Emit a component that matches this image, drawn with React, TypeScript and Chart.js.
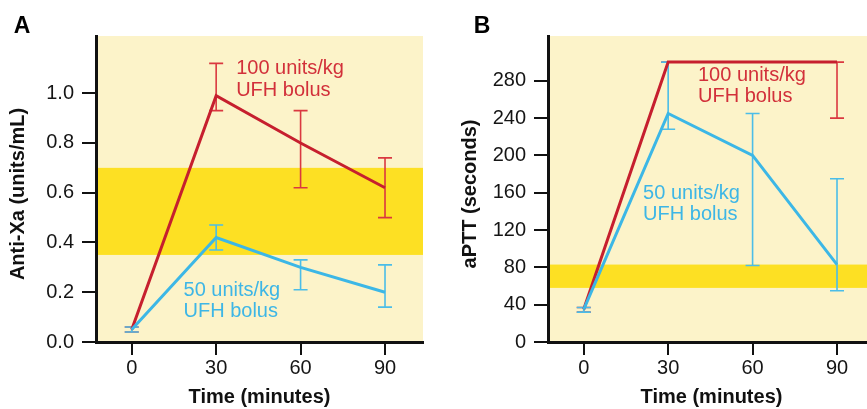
import React, { useEffect, useRef } from "react";
import { Chart, registerables } from "chart.js";

Chart.register(...registerables);

// ---------- data ----------
const timeMinutes = [0, 30, 60, 90];
const timeTicks = [0, 30, 60, 90];

// Panel A: anti-Xa (units/mL)
const antiXaTicks = [0, 0.2, 0.4, 0.6, 0.8, 1.0];
const antiXaTarget = [0.35, 0.7];
const antiXa100 = [0.05, 0.99, 0.8, 0.62];
const antiXa100Low = [0.04, 0.93, 0.62, 0.5];
const antiXa100High = [0.06, 1.12, 0.93, 0.74];
const antiXa50 = [0.05, 0.42, 0.3, 0.2];
const antiXa50Low = [0.04, 0.37, 0.21, 0.14];
const antiXa50High = [0.06, 0.47, 0.33, 0.31];

// Panel B: aPTT (seconds)
const apttTicks = [0, 40, 80, 120, 160, 200, 240, 280];
const apttTarget = [58, 83];
const aptt100 = [35, 300, 300, 300];
const aptt100Low = [32, 300, 300, 240];
const aptt100High = [37, 300, 300, 300];
const aptt50 = [35, 245, 200, 83];
const aptt50Low = [32, 228, 82, 55];
const aptt50High = [37, 300, 245, 175];

const label100 = ["100 units/kg", "UFH bolus"];
const label50 = ["50 units/kg", "UFH bolus"];

// ---------- styles ----------
const FONT = '"Liberation Sans", Arial, Helvetica, sans-serif';
const BG = "#FCF3C9";
const BAND = "#FDE023";
const RED = "#C61F2E";
const RED_LIGHT = "#DA3840";
const BLUE = "#3CB7E6";
const BLUE_LIGHT = "#4BBDE8";
const INK = "#111111";

type Series = {
  values: number[];
  low: number[];
  high: number[];
  color: string;
  errColor: string;
  order: number;
};

type Note = { lines: string[]; x: number; y: number; color: string };

type PanelCfg = {
  letter: string;
  letterX: number;
  yTitle: string;
  yMax: number;
  yTicks: number[];
  yFormat: (v: number) => string;
  band: number[];
  series: Series[];
  notes: Note[];
};

const panelA: PanelCfg = {
  letter: "A",
  letterX: 22,
  yTitle: "Anti-Xa (units/mL)",
  yMax: 1.23,
  yTicks: antiXaTicks,
  yFormat: (v) => v.toFixed(1),
  band: antiXaTarget,
  series: [
    { values: antiXa100, low: antiXa100Low, high: antiXa100High, color: RED, errColor: RED_LIGHT, order: 1 },
    { values: antiXa50, low: antiXa50Low, high: antiXa50High, color: BLUE, errColor: BLUE_LIGHT, order: 0 },
  ],
  notes: [
    { lines: label100, x: 37.1, y: 1.098, color: "#D2303A" },
    { lines: label50, x: 18.4, y: 0.209, color: "#3DB6E6" },
  ],
};

const panelB: PanelCfg = {
  letter: "B",
  letterX: 30,
  yTitle: "aPTT (seconds)",
  yMax: 328,
  yTicks: apttTicks,
  yFormat: (v) => String(Math.round(v)),
  band: apttTarget,
  series: [
    { values: aptt100, low: aptt100Low, high: aptt100High, color: RED, errColor: RED_LIGHT, order: 1 },
    { values: aptt50, low: aptt50Low, high: aptt50High, color: BLUE, errColor: BLUE_LIGHT, order: 0 },
  ],
  notes: [
    { lines: label100, x: 40.6, y: 286, color: "#D2303A" },
    { lines: label50, x: 21.1, y: 159.5, color: "#3DB6E6" },
  ],
};

function buildChart(canvas: HTMLCanvasElement, cfg: PanelCfg) {
  const decor = {
    id: "panelDecor",
    beforeDraw(chart: any) {
      const { ctx, chartArea: a } = chart;
      const y = chart.scales.y;
      ctx.save();
      ctx.fillStyle = BG;
      ctx.fillRect(a.left, a.top, a.right - a.left, a.bottom - a.top);
      const yT = y.getPixelForValue(cfg.band[1]);
      const yB = y.getPixelForValue(cfg.band[0]);
      ctx.fillStyle = BAND;
      ctx.fillRect(a.left, yT, a.right - a.left, yB - yT);
      ctx.restore();
    },
    beforeDatasetsDraw(chart: any) {
      const { ctx } = chart;
      const xs = chart.scales.x;
      const ys = chart.scales.y;
      ctx.save();
      ctx.lineWidth = 1.6;
      const cap = 7;
      cfg.series.forEach((s) => {
        ctx.strokeStyle = s.errColor;
        timeMinutes.forEach((t, i) => {
          const px = xs.getPixelForValue(t);
          const pLo = ys.getPixelForValue(s.low[i]);
          const pHi = ys.getPixelForValue(s.high[i]);
          ctx.beginPath();
          ctx.moveTo(px, pLo);
          ctx.lineTo(px, pHi);
          ctx.moveTo(px - cap, pLo);
          ctx.lineTo(px + cap, pLo);
          ctx.moveTo(px - cap, pHi);
          ctx.lineTo(px + cap, pHi);
          ctx.stroke();
        });
      });
      ctx.restore();
    },
    afterDraw(chart: any) {
      const { ctx, chartArea: a } = chart;
      const xs = chart.scales.x;
      const ys = chart.scales.y;
      ctx.save();
      ctx.font = `20px ${FONT}`;
      ctx.textAlign = "left";
      ctx.textBaseline = "middle";
      cfg.notes.forEach((n) => {
        const px = xs.getPixelForValue(n.x);
        const py = ys.getPixelForValue(n.y);
        ctx.fillStyle = n.color;
        n.lines.forEach((line, i) => ctx.fillText(line, px, py + i * 21.7));
      });
      // y-axis title (drawn manually to match its slightly lowered placement)
      ctx.save();
      ctx.translate(18, (a.top + a.bottom) / 2 + 5);
      ctx.rotate(-Math.PI / 2);
      ctx.font = `bold 20px ${FONT}`;
      ctx.fillStyle = INK;
      ctx.textAlign = "center";
      ctx.fillText(cfg.yTitle, 0, 0);
      ctx.restore();
      ctx.font = `bold 23px ${FONT}`;
      ctx.fillStyle = "#000";
      ctx.textAlign = "center";
      ctx.fillText(cfg.letter, cfg.letterX, 27);
      ctx.restore();
    },
  };

  return new Chart(canvas, {
    type: "line",
    data: {
      datasets: cfg.series.map((s) => ({
        data: timeMinutes.map((t, i) => ({ x: t, y: s.values[i] })),
        borderColor: s.color,
        backgroundColor: s.color,
        borderWidth: 3,
        pointRadius: 0,
        tension: 0,
        fill: false,
        order: s.order,
      })),
    },
    options: {
      responsive: false,
      animation: false,
      layout: { padding: { top: 36, right: 17, left: 0, bottom: 0 } },
      plugins: { legend: { display: false }, tooltip: { enabled: false } },
      scales: {
        x: {
          type: "linear",
          min: -12.7,
          max: 103.5,
          afterBuildTicks: (s: any) => {
            s.ticks = timeTicks.map((v) => ({ value: v }));
          },
          afterFit: (s: any) => {
            s.height = 67;
          },
          grid: { drawOnChartArea: false, drawTicks: true, tickLength: 13, color: INK, lineWidth: 2 },
          border: { display: true, color: INK, width: 3 },
          ticks: { font: { family: FONT, size: 20 }, color: "#151515", padding: 1, maxRotation: 0, autoSkip: false },
          title: {
            display: true,
            text: "Time (minutes)",
            font: { family: FONT, size: 20, weight: "bold" },
            color: INK,
            padding: { top: 0, bottom: 0 },
          },
        },
        y: {
          type: "linear",
          min: 0,
          max: cfg.yMax,
          afterBuildTicks: (s: any) => {
            s.ticks = cfg.yTicks.map((v) => ({ value: v }));
          },
          afterFit: (s: any) => {
            s.width = 96;
          },
          grid: { drawOnChartArea: false, drawTicks: true, tickLength: 14, color: INK, lineWidth: 2 },
          border: { display: true, color: INK, width: 3 },
          ticks: {
            font: { family: FONT, size: 20 },
            color: "#151515",
            padding: 8,
            autoSkip: false,
            callback: (v: any) => cfg.yFormat(Number(v)),
          },
          title: { display: false },
        },
      },
    },
    plugins: [decor],
  } as any);
}

function Panel({ cfg, left }: { cfg: PanelCfg; left: number }) {
  const ref = useRef<HTMLCanvasElement>(null);
  useEffect(() => {
    const chart = buildChart(ref.current as HTMLCanvasElement, cfg);
    return () => chart.destroy();
  }, [cfg]);
  return (
    <canvas
      ref={ref}
      width={440}
      height={409}
      style={{ position: "absolute", left, top: 0, width: 440, height: 409 }}
    />
  );
}

export default function App() {
  return (
    <div
      style={{
        position: "fixed",
        left: 0,
        top: 0,
        width: 867,
        height: 409,
        overflow: "hidden",
        background: "#ffffff",
      }}
    >
      <Panel cfg={panelA} left={0} />
      <Panel cfg={panelB} left={452} />
    </div>
  );
}
